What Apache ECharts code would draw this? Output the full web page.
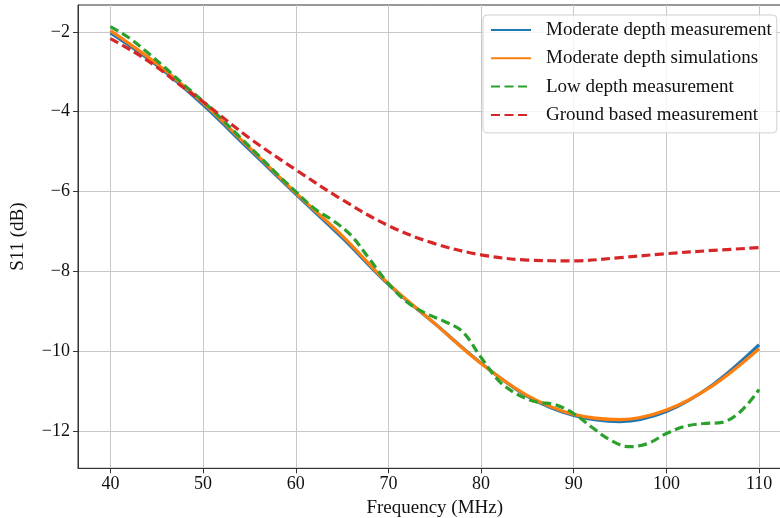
<!DOCTYPE html>
<html>
<head>
<meta charset="utf-8">
<script src="https://cdn.jsdelivr.net/npm/echarts@6/dist/echarts.min.js"></script>
<style>
  html, body { margin: 0; padding: 0; background: #fff; overflow: hidden; }
  #chart { width: 780px; height: 518px; }
</style>
</head>
<body>
<div id="chart"></div>
<script>
// Frequency samples (MHz)
const freqMain = [40, 45, 50, 55, 60, 65, 70, 75, 80, 85, 90, 95, 100, 105, 110];
const freqGround = [40, 42.5, 45, 47.5, 50, 55, 60, 65, 70, 75, 80, 85, 90, 95, 100, 105, 110];
const freqLow = [40, 42, 44, 46, 48, 50, 52, 54, 56, 58, 60, 62, 64, 66, 68, 70, 72, 74, 76, 78,
                 80, 82, 84, 86, 88, 90, 92, 94, 96, 98, 100, 102, 104, 106, 108, 110];

// S11 values (dB)
const moderateMeasured = [-2.03, -2.84, -3.83, -4.95, -6.06, -7.15, -8.32, -9.3, -10.29, -11.12,
                          -11.6, -11.75, -11.5, -10.83, -9.83];
const moderateSimulated = [-1.97, -2.8, -3.78, -4.9, -6.03, -7.1, -8.3, -9.3, -10.3, -11.1,
                           -11.57, -11.7, -11.46, -10.85, -9.93];
const lowMeasured = [-1.87, -2.15, -2.52, -2.92, -3.34, -3.74, -4.18, -4.64, -5.1, -5.56,
                     -6.0, -6.42, -6.72, -7.1, -7.7, -8.3, -8.76, -9.04, -9.24, -9.5,
                     -10.15, -10.75, -11.08, -11.26, -11.33, -11.55, -11.9, -12.22, -12.38, -12.3,
                     -12.05, -11.87, -11.8, -11.77, -11.5, -10.95];
const groundMeasured = [-2.17, -2.5, -2.88, -3.33, -3.75, -4.66, -5.45, -6.2, -6.85, -7.3,
                        -7.58, -7.71, -7.73, -7.65, -7.55, -7.47, -7.4];

const xTicks = [40, 50, 60, 70, 80, 90, 100, 110];
const yTicks = [-12, -10, -8, -6, -4, -2];

const seriesNames = [
  'Moderate depth measurement',
  'Moderate depth simulations',
  'Low depth measurement',
  'Ground based measurement'
];

const pairs = (xs, ys) => xs.map((x, i) => [x, ys[i]]);
const minusFmt = v => String(v).replace('-', '\u2212');
const FONT = '"Liberation Serif", "DejaVu Serif", serif';

function lineSeries(name, data, color, dashed) {
  return {
    name: name,
    type: 'line',
    data: data,
    smooth: 0.35,
    symbol: 'none',
    showSymbol: false,
    lineStyle: {
      color: color,
      width: 3.2,
      type: dashed ? [9, 4.5] : 'solid',
      cap: 'butt'
    },
    itemStyle: { color: color },
    emphasis: { disabled: true },
    animation: false
  };
}

const chart = echarts.init(document.getElementById('chart'), null, { renderer: 'canvas' });

// The plot frame runs a little past the right edge of the canvas
chart.setOption({
  backgroundColor: '#ffffff',
  animation: false,
  textStyle: { fontFamily: FONT },
  grid: {
    left: 78,
    top: 5,
    right: -11.5,
    bottom: 49.7,
    outerBoundsMode: 'none',
    containLabel: false,
    show: true,
    borderColor: '#333333',
    borderWidth: 1,
    backgroundColor: 'transparent'
  },
  xAxis: {
    type: 'value',
    min: 36.5,
    max: 113.5,
    name: 'Frequency (MHz)',
    nameLocation: 'middle',
    nameGap: 29,
    nameTextStyle: { fontFamily: FONT, fontSize: 19, color: '#111' },
    axisLine: { show: true, lineStyle: { color: '#333333', width: 1 } },
    axisTick: { show: true, length: 5, inside: false, customValues: xTicks,
                lineStyle: { color: '#333333', width: 1 } },
    axisLabel: { show: true, customValues: xTicks, margin: 7, formatter: minusFmt,
                 fontFamily: FONT, fontSize: 18, color: '#111' },
    splitLine: { show: true, lineStyle: { color: '#c8c8c8', width: 1 } }
  },
  yAxis: {
    type: 'value',
    min: -12.92,
    max: -1.33,
    name: 'S11 (dB)',
    nameLocation: 'middle',
    nameGap: 50,
    nameRotate: 90,
    nameTextStyle: { fontFamily: FONT, fontSize: 19, color: '#111' },
    axisLine: { show: true, lineStyle: { color: '#333333', width: 1 } },
    axisTick: { show: true, length: 5, inside: false, customValues: yTicks,
                lineStyle: { color: '#333333', width: 1 } },
    axisLabel: { show: true, customValues: yTicks, margin: 8, formatter: minusFmt,
                 fontFamily: FONT, fontSize: 18, color: '#111' },
    splitLine: { show: true, lineStyle: { color: '#c8c8c8', width: 1 } }
  },
  legend: {
    orient: 'vertical',
    left: 483,
    top: 15,
    padding: [5, 5, 8, 7],
    itemWidth: 40,
    itemHeight: 14,
    itemGap: 8.3,
    backgroundColor: 'rgba(255,255,255,0.8)',
    borderColor: '#d0d0d0',
    borderWidth: 1,
    borderRadius: 4,
    itemStyle: { color: 'rgba(0,0,0,0)', borderWidth: 0 },
    textStyle: { fontFamily: FONT, fontSize: 19, color: '#111', lineHeight: 20,
                 padding: [0, 0, 0, 10] },
    data: seriesNames
  },
  series: [
    lineSeries(seriesNames[0], pairs(freqMain, moderateMeasured), '#1f77b4', false),
    lineSeries(seriesNames[1], pairs(freqMain, moderateSimulated), '#ff7f0e', false),
    lineSeries(seriesNames[2], pairs(freqLow, lowMeasured), '#2ca02c', true),
    lineSeries(seriesNames[3], pairs(freqGround, groundMeasured), '#d62728', true)
  ]
});
</script>
</body>
</html>
